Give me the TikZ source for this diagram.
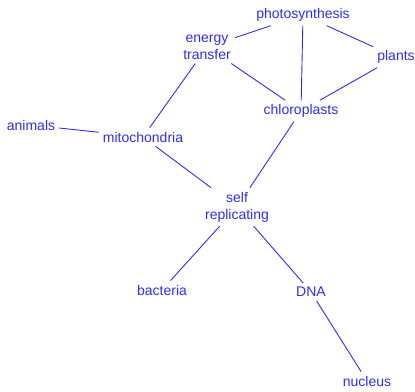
\documentclass[tikz,border=0pt]{standalone}
\usepackage{fontspec}
\setmainfont{Liberation Sans}
\usepackage{tikz}

\definecolor{mapblue}{RGB}{45,45,240}

\tikzset{
  concept/.style={text=mapblue, font=\fontsize{14}{17}\selectfont, align=center, inner sep=4pt},
  link/.style={draw=mapblue, line width=0.9pt}
}

\begin{document}
\begin{tikzpicture}[x=1pt, y=-1pt]
\useasboundingbox (0,0) rectangle (415,391);

\node[concept] (photo) at (303,15) {photosynthesis};
\node[concept] (energy) at (207,47) {energy\\transfer};
\node[concept] (plants) at (396,57) {plants};
\node[concept] (chloro) at (301,111) {chloroplasts};
\node[concept] (animals) at (31,125) {animals};
\node[concept] (mito) at (143,137) {mitochondria};
\node[concept] (self) at (237,207) {self\\replicating};
\node[concept] (bact) at (162,290) {bacteria};
\node[concept] (dna) at (311,292) {DNA};
\node[concept] (nucleus) at (367,381) {nucleus};

\draw[link] (photo) -- (energy);
\draw[link] (photo) -- (chloro);
\draw[link] (photo) -- (plants);
\draw[link] (plants) -- (chloro);
\draw[link] (energy) -- (chloro);
\draw[link] (energy) -- (mito);
\draw[link] (animals) -- (mito);
\draw[link] (mito) -- (self);
\draw[link] (chloro) -- (self);
\draw[link] (self) -- (bact);
\draw[link] (self) -- (dna);
\draw[link] (dna) -- (nucleus);
\end{tikzpicture}
\end{document}
